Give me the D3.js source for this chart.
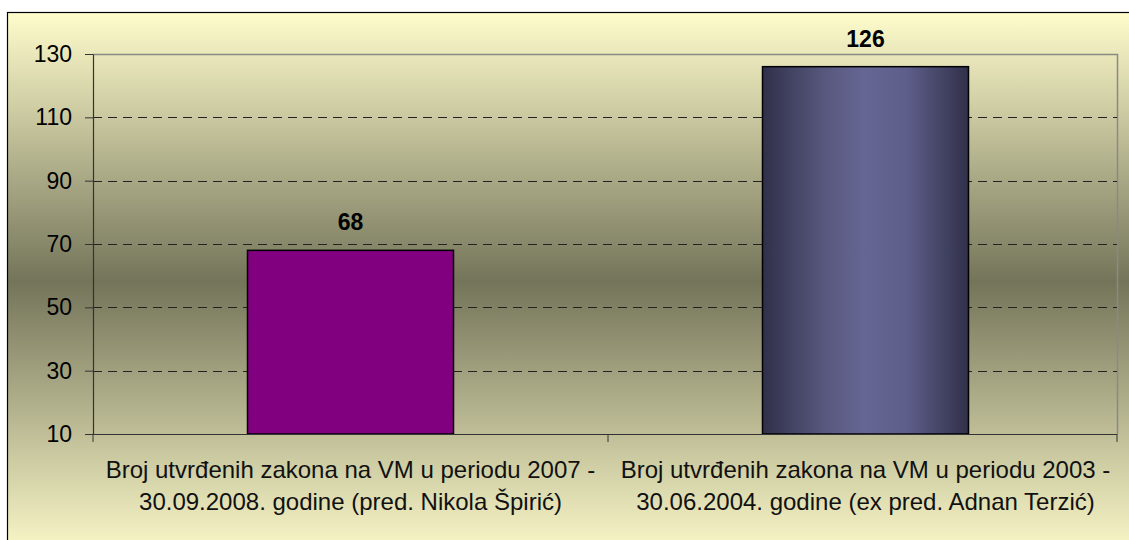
<!DOCTYPE html>
<html>
<head>
<meta charset="utf-8">
<script src="https://cdn.jsdelivr.net/npm/d3@7"></script>
<style>
  body { margin: 0; background: #fff; }
  svg { display: block; font-family: "Liberation Sans", Arial, sans-serif; }
</style>
</head>
<body>
<svg></svg>
<script>
// data
const categories = [
  ["Broj utvrđenih zakona na VM u periodu 2007 -", "30.09.2008. godine (pred. Nikola Špirić)"],
  ["Broj utvrđenih zakona na VM u periodu 2003 -", "30.06.2004. godine (ex pred. Adnan Terzić)"]
];
const values = [68, 126];
const yTicks = [10, 30, 50, 70, 90, 110, 130];

const width = 1129, height = 540;
const svg = d3.select("svg").attr("width", width).attr("height", height);
const defs = svg.append("defs");

// background gradient (light yellow -> olive -> light yellow)
const bg = defs.append("linearGradient").attr("id", "bg")
  .attr("x1", 0).attr("y1", 0).attr("x2", 0).attr("y2", 1);
bg.append("stop").attr("offset", "0%").attr("stop-color", "#fffdcc");
bg.append("stop").attr("offset", "49%").attr("stop-color", "#74745a");
bg.append("stop").attr("offset", "100%").attr("stop-color", "#fffdcc");

// bar shading for second bar
const barGrad = defs.append("linearGradient").attr("id", "bar2")
  .attr("x1", 0).attr("y1", 0).attr("x2", 1).attr("y2", 0);
[["0%", "#30304a"], ["30%", "#58587e"], ["50%", "#666694"], ["70%", "#5e5e8a"], ["100%", "#30304a"]]
  .forEach(s => barGrad.append("stop").attr("offset", s[0]).attr("stop-color", s[1]));

svg.append("rect")
  .attr("x", 7.5).attr("y", 12.5)
  .attr("width", width + 10).attr("height", height + 10)
  .attr("fill", "url(#bg)")
  .attr("stroke", "#000").attr("stroke-width", 1.2);

const margin = {left: 93, right: 1117, top: 54, bottom: 434};

const x = d3.scaleBand().domain(d3.range(values.length))
  .range([margin.left, margin.right + 6]).paddingInner(0).paddingOuter(0);
const y = d3.scaleLinear().domain([10, 130]).range([margin.bottom, margin.top]);

// plot area frame (top/right)
svg.append("path")
  .attr("d", `M${margin.left},${margin.top + 0.5}H${margin.right + 0.5}V${margin.bottom}`)
  .attr("fill", "none").attr("stroke", "#8a8a84").attr("stroke-width", 1.5);

// gridlines
svg.append("g").selectAll("line")
  .data(yTicks.filter(t => t > 10 && t < 130))
  .enter().append("line")
  .attr("x1", margin.left).attr("x2", margin.right)
  .attr("y1", d => Math.round(y(d)) + 0.5).attr("y2", d => Math.round(y(d)) + 0.5)
  .attr("stroke", "#222").attr("stroke-width", 1)
  .attr("stroke-dasharray", "9,6");

// bars
const barW = x.bandwidth() * 0.4;
svg.append("g").selectAll("rect")
  .data(values)
  .enter().append("rect")
  .attr("x", (d, i) => x(i) + (x.bandwidth() - barW) / 2)
  .attr("y", d => y(d))
  .attr("width", barW)
  .attr("height", d => y(10) - y(d))
  .attr("fill", (d, i) => i === 0 ? "#800080" : "url(#bar2)")
  .attr("stroke", "#000").attr("stroke-width", 1.5);

// value labels
svg.append("g").selectAll("text")
  .data(values)
  .enter().append("text")
  .attr("x", (d, i) => x(i) + x.bandwidth() / 2)
  .attr("y", d => y(d) - 20)
  .attr("text-anchor", "middle")
  .attr("font-size", 23).attr("font-weight", "bold")
  .text(d => d);

// y axis
const yAxis = svg.append("g")
  .attr("transform", `translate(${margin.left},0)`)
  .call(d3.axisLeft(y).tickValues(yTicks).tickSize(8).tickSizeOuter(0).tickPadding(13));
yAxis.select(".domain").attr("stroke", "#333").attr("stroke-width", 1.2);
yAxis.selectAll(".tick line").attr("stroke", "#333");
yAxis.selectAll(".tick text").attr("font-size", 23).attr("fill", "#000")
  .attr("font-family", "Liberation Sans, Arial, sans-serif");

// x axis line + category ticks
svg.append("line")
  .attr("x1", margin.left).attr("x2", margin.right)
  .attr("y1", margin.bottom + 0.5).attr("y2", margin.bottom + 0.5)
  .attr("stroke", "#333").attr("stroke-width", 1.2);
svg.append("g").selectAll("line")
  .data(d3.range(values.length + 1))
  .enter().append("line")
  .attr("x1", i => i < values.length ? x(i) : margin.right)
  .attr("x2", i => i < values.length ? x(i) : margin.right)
  .attr("y1", margin.bottom).attr("y2", margin.bottom + 8)
  .attr("stroke", "#333");

// category labels
const cat = svg.append("g").selectAll("text")
  .data(categories)
  .enter().append("text")
  .attr("text-anchor", "middle")
  .attr("font-size", 24).attr("fill", "#111");
cat.each(function(lines, i) {
  lines.forEach((l, j) => {
    d3.select(this).append("tspan")
      .attr("x", x(i) + x.bandwidth() / 2)
      .attr("y", 478 + j * 32)
      .text(l);
  });
});
</script>
</body>
</html>
